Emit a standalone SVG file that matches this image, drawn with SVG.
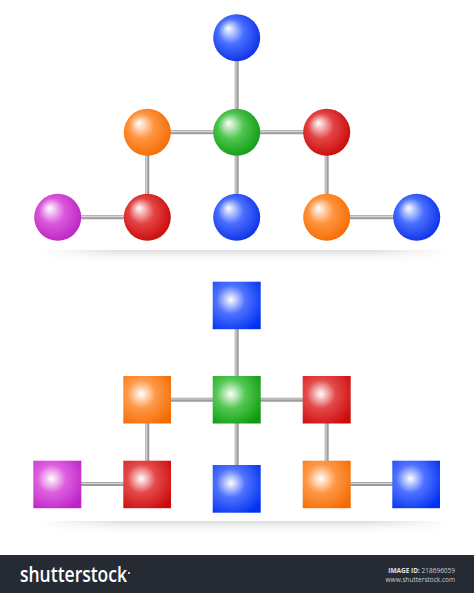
<svg xmlns="http://www.w3.org/2000/svg" width="474" height="593" viewBox="0 0 474 593">
<defs>
<radialGradient id="gBlue" cx="0.45" cy="0.45" r="0.6" fx="0.32" fy="0.3"><stop offset="0" stop-color="#ffffff"/><stop offset="0.45" stop-color="#4a70ff"/><stop offset="1" stop-color="#0a2ee6"/></radialGradient>
<radialGradient id="gGreen" cx="0.45" cy="0.45" r="0.6" fx="0.32" fy="0.3"><stop offset="0" stop-color="#ffffff"/><stop offset="0.45" stop-color="#50c650"/><stop offset="1" stop-color="#0e9a12"/></radialGradient>
<radialGradient id="gOrange" cx="0.45" cy="0.45" r="0.6" fx="0.32" fy="0.3"><stop offset="0" stop-color="#ffffff"/><stop offset="0.45" stop-color="#ff9440"/><stop offset="1" stop-color="#f56a00"/></radialGradient>
<radialGradient id="gRed" cx="0.45" cy="0.45" r="0.6" fx="0.32" fy="0.3"><stop offset="0" stop-color="#ffffff"/><stop offset="0.45" stop-color="#e44444"/><stop offset="1" stop-color="#c80808"/></radialGradient>
<radialGradient id="gPurple" cx="0.45" cy="0.45" r="0.6" fx="0.32" fy="0.3"><stop offset="0" stop-color="#ffffff"/><stop offset="0.45" stop-color="#dc58dc"/><stop offset="1" stop-color="#bb22c0"/></radialGradient>
<radialGradient id="qBlue" cx="0.38" cy="0.38" r="0.75"><stop offset="0" stop-color="#ffffff"/><stop offset="0.4" stop-color="#4e72ff"/><stop offset="1" stop-color="#0030f0"/></radialGradient>
<radialGradient id="qGreen" cx="0.38" cy="0.38" r="0.75"><stop offset="0" stop-color="#ffffff"/><stop offset="0.4" stop-color="#55c855"/><stop offset="1" stop-color="#0a9a0a"/></radialGradient>
<radialGradient id="qOrange" cx="0.38" cy="0.38" r="0.75"><stop offset="0" stop-color="#ffffff"/><stop offset="0.4" stop-color="#ff9846"/><stop offset="1" stop-color="#f46a00"/></radialGradient>
<radialGradient id="qRed" cx="0.38" cy="0.38" r="0.75"><stop offset="0" stop-color="#ffffff"/><stop offset="0.4" stop-color="#e44a4a"/><stop offset="1" stop-color="#cc0a0a"/></radialGradient>
<radialGradient id="qPurple" cx="0.38" cy="0.38" r="0.75"><stop offset="0" stop-color="#ffffff"/><stop offset="0.4" stop-color="#de5ede"/><stop offset="1" stop-color="#bb22c8"/></radialGradient>
<linearGradient id="shadow" x1="0" y1="0" x2="0" y2="1"><stop offset="0" stop-color="#d8d8d8" stop-opacity="0.9"/><stop offset="1" stop-color="#ffffff" stop-opacity="0"/></linearGradient>
<linearGradient id="shadowH" x1="0" y1="0" x2="1" y2="0"><stop offset="0" stop-color="#fff" stop-opacity="1"/><stop offset="0.2" stop-color="#fff" stop-opacity="0"/><stop offset="0.8" stop-color="#fff" stop-opacity="0"/><stop offset="1" stop-color="#fff" stop-opacity="1"/></linearGradient>
</defs>
<style>
.c{stroke:#9c9c9c;stroke-width:4;fill:none}
.ch{stroke:#d6d6d6;stroke-width:1.2;fill:none}
.logo{font-family:"Open Sans","DejaVu Sans",sans-serif;font-weight:600;fill:#ffffff}
.small{font-family:"Open Sans","DejaVu Sans",sans-serif;fill:#c8ccd2}
</style>
<rect width="474" height="593" fill="#ffffff"/>
<rect x="40" y="250" width="410" height="14" fill="url(#shadow)"/>
<rect x="40" y="250" width="410" height="14" fill="url(#shadowH)"/>
<rect x="40" y="521" width="410" height="14" fill="url(#shadow)"/>
<rect x="40" y="521" width="410" height="14" fill="url(#shadowH)"/>
<g id="connectors">
<path class="c" d="M236.7,38V132 M147.3,132.3H326.7 M236.7,132V217 M147.3,132V217 M326.7,132V217 M57.7,217.3H147.3 M326.7,217.3H416.7"/>
<path class="ch" d="M236,38V132 M147.3,131.6H326.7 M236,132V217 M146.6,132V217 M326,132V217 M57.7,216.6H147.3 M326.7,216.6H416.7"/>
<path class="c" d="M236.7,305V400 M147,399.7H326.7 M236.7,400V489 M147.3,400V484 M326.7,400V484 M57.3,484H147 M326.7,484H416"/>
<path class="ch" d="M236,305V400 M147,399H326.7 M236,400V489 M146.6,400V484 M326,400V484 M57.3,483.3H147 M326.7,483.3H416"/>
</g>
<g id="s-top"><circle cx="236.7" cy="37.7" r="23.5" fill="url(#gBlue)"/></g>
<g id="s-orange"><circle cx="147.3" cy="132.3" r="23.5" fill="url(#gOrange)"/></g>
<g id="s-green"><circle cx="236.7" cy="132.3" r="23.5" fill="url(#gGreen)"/></g>
<g id="s-red"><circle cx="326.7" cy="132.3" r="23.5" fill="url(#gRed)"/></g>
<g id="s-purple"><circle cx="57.7" cy="217.3" r="23.5" fill="url(#gPurple)"/></g>
<g id="s-red2"><circle cx="147.3" cy="217.3" r="23.5" fill="url(#gRed)"/></g>
<g id="s-blue2"><circle cx="236.7" cy="217.3" r="23.5" fill="url(#gBlue)"/></g>
<g id="s-orange2"><circle cx="326.7" cy="217.3" r="23.5" fill="url(#gOrange)"/></g>
<g id="s-blue3"><circle cx="416.7" cy="217.3" r="23.5" fill="url(#gBlue)"/></g>
<g id="q-top"><rect x="212.7" y="281.7" width="48" height="47.5" fill="url(#qBlue)"/></g>
<g id="q-orange"><rect x="123.3" y="376" width="47.7" height="47.5" fill="url(#qOrange)"/></g>
<g id="q-green"><rect x="212.7" y="376" width="48" height="47.5" fill="url(#qGreen)"/></g>
<g id="q-red"><rect x="302.7" y="376" width="48" height="47.5" fill="url(#qRed)"/></g>
<g id="q-purple"><rect x="33.3" y="460.7" width="48" height="47.5" fill="url(#qPurple)"/></g>
<g id="q-red2"><rect x="123.3" y="460.7" width="47.7" height="47.5" fill="url(#qRed)"/></g>
<g id="q-blue2"><rect x="212.7" y="465" width="48" height="47.7" fill="url(#qBlue)"/></g>
<g id="q-orange2"><rect x="302.7" y="460.7" width="48" height="47.5" fill="url(#qOrange)"/></g>
<g id="q-blue3"><rect x="392.3" y="460.7" width="47.7" height="47.5" fill="url(#qBlue)"/></g>
<g id="footer">
<rect x="0" y="555" width="474" height="38" fill="#262a33"/>
<text class="logo" x="20" y="582" font-size="21" textLength="107" lengthAdjust="spacingAndGlyphs">shutterstock</text>
<circle cx="129" cy="573" r="1" fill="#ffffff"/>
<text class="small" x="455" y="573" font-size="6.5" text-anchor="end"><tspan font-weight="700" fill="#e0e3e8">IMAGE ID:</tspan> 218696059</text>
<text class="small" x="455" y="582" font-size="6.5" text-anchor="end">www.shutterstock.com</text>
</g>
</svg>
